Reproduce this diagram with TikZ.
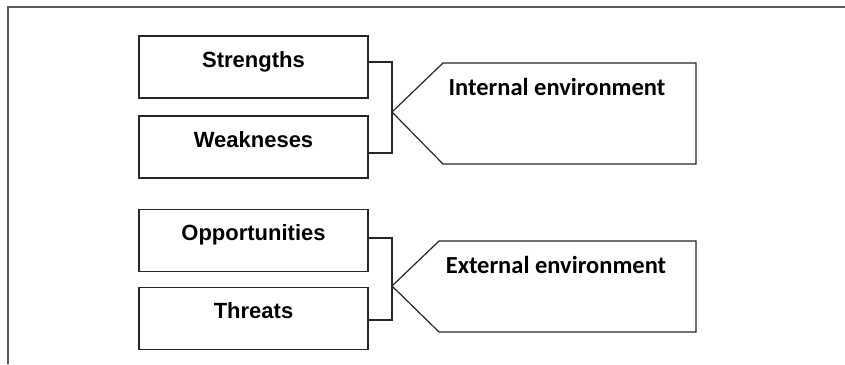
\documentclass[tikz,border=0pt]{standalone}
\usepackage{fontspec}
\setmainfont{Liberation Sans}
\newfontfamily\envfont{Carlito}
\begin{document}
\begin{tikzpicture}[x=1pt,y=-1pt,
  swotbox/.style={draw=black!85, line width=1.2pt, minimum width=229pt, minimum height=62pt,
    inner sep=0pt, text height=10pt, text depth=10pt,
    font=\fontsize{22}{24}\selectfont\bfseries},
  envshape/.style={draw=black!85, line width=1.2pt, line join=miter},
  envtext/.style={anchor=base, inner sep=0pt, font=\envfont\fontsize{24.5}{26}\selectfont\bfseries},
  bracket/.style={draw=black!85, line width=1.1pt},
  frame/.style={draw=black!65, line width=2pt}]
\useasboundingbox (0,0) rectangle (845,364);
\draw[frame] (8,364) -- (8,7) -- (845,7);

\node[swotbox] (s) at (253.5,67) {Strengths};
\node[swotbox] (w) at (253.5,147) {Weakneses};
\node[swotbox] (o) at (253.5,240.5) {Opportunities};
\node[swotbox] (t) at (253.5,318.5) {Threats};

\coordinate (itip) at (392,112);
\coordinate (etip) at (392,286);

\draw[envshape] (itip) -- (443,63) -- (696,63) -- (696,164) -- (443,164) -- cycle;
\draw[envshape] (etip) -- (439,241) -- (696,241) -- (696,332) -- (439,332) -- cycle;

\node[envtext] (ie) at (557,95) {Internal environment};
\node[envtext] (ee) at (556,273) {External environment};

\draw[bracket] ([yshift=5pt]s.east) -| (itip |- 0,62) -- (itip) |- ([yshift=-6pt]w.east);
\draw[bracket] ([yshift=2.5pt]o.east) -| (etip |- 0,238) -- (etip) |- ([yshift=-1.5pt]t.east);
\end{tikzpicture}
\end{document}
